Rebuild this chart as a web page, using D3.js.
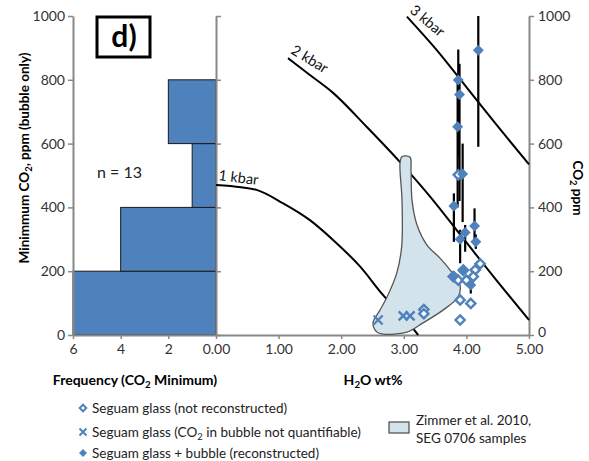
<!DOCTYPE html>
<html>
<head>
<meta charset="utf-8">
<script src="https://cdn.jsdelivr.net/npm/d3@7"></script>
<style>
  body { margin: 0; background: #fff; }
  text { font-family: Lato, "Open Sans", sans-serif; }
</style>
</head>
<body>
<div id="chart"></div>
<script>
// Histogram of minimum CO2 (bubble only)
const binStart = [0, 200, 400, 600, 800];
const binCount = [6, 4, 1, 2, 0];

// Isobars, [H2O wt%, CO2 ppm]
const isobar1 = [[0, 470], [0.4, 463], [0.65, 455], [1.07, 413], [1.5, 360], [1.87, 298], [2.3, 215], [2.67, 125], [3.0, 55], [3.23, 0]];
const isobar2 = [[1.15, 868], [1.5, 815], [1.87, 759], [2.41, 652], [2.94, 542], [3.42, 434], [4.0, 290], [4.54, 157], [5.0, 47]];
const isobar3 = [[3.05, 998], [3.5, 899], [4.0, 777], [4.46, 664], [5.0, 535]];

// Zimmer et al. 2010 field outline
const zimmerOutline = [[2.94, 540], [2.97, 559], [3.10, 557], [3.115, 517], [3.131, 423], [3.211, 345], [3.371, 282],
  [3.578, 241], [3.738, 204], [3.898, 157], [3.866, 119], [3.626, 78], [3.307, 38], [3.051, 9], [2.668, 3],
  [2.572, 9], [2.508, 38], [2.62, 78], [2.732, 119], [2.887, 194], [2.966, 277], [2.971, 423]];

// Seguam glass + bubble (reconstructed), with error ranges
const reconH2O = [4.19, 3.87, 3.89, 3.86, 3.94, 3.80, 3.98, 3.90, 4.13, 4.15, 4.07, 3.80, 3.95];
const reconCO2 = [893, 799, 754, 653, 505, 404, 321, 300, 342, 292, 157, 185, 200];
const reconLow = [590, 560, 420, 400, 354, 292, 261, 225, 282, 270, 130, null, null];
const reconHigh = [1000, 895, 850, 800, 600, 444, 345, 330, 397, 315, 167, null, null];

// Seguam glass (not reconstructed)
const openH2O = [3.87, 3.79, 3.95, 3.87, 4.00, 4.14, 4.22, 4.11, 3.90, 4.07, 3.90, 3.32, 3.32];
const openCO2 = [502, 183, 204, 172, 172, 204, 223, 183, 110, 99, 47, 80, 67];

// Seguam glass (CO2 in bubble not quantifiable)
const crossH2O = [2.59, 2.99, 3.10];
const crossCO2 = [47, 60, 60];

const ppmTicks = [0, 200, 400, 600, 800, 1000];
const freqTicks = [6, 4, 2];
const h2oTicks = [0, 1, 2, 3, 4, 5];

const blue = '#4f81bd';
const axisGray = '#888';

const svg = d3.select('#chart').append('svg')
  .attr('width', 589).attr('height', 461)
  .style('background', '#fff');

const y = d3.scaleLinear().domain([0, 1000]).range([335, 16]);
const xHist = d3.scaleLinear().domain([6, 0]).range([73, 216]);
const x = d3.scaleLinear().domain([0, 5]).range([216, 529]);

// Histogram bars
svg.append('g')
  .selectAll('rect')
  .data(binStart.map((s, i) => ({ s, n: binCount[i] })).filter(d => d.n > 0))
  .enter()
  .append('rect')
  .attr('x', d => xHist(d.n))
  .attr('y', d => y(d.s + 200))
  .attr('width', d => xHist(0) - xHist(d.n))
  .attr('height', d => y(d.s) - y(d.s + 200))
  .attr('fill', blue)
  .attr('stroke', '#1a1a1a')
  .attr('stroke-width', 1);

// Axes
const styleAxis = (g, fontSize) => {
  g.select('.domain').attr('stroke', axisGray).attr('stroke-width', 2);
  g.selectAll('.tick line').attr('stroke', axisGray).attr('stroke-width', 1.5);
  g.selectAll('.tick text').attr('fill', '#333').style('font-size', fontSize + 'px');
};

svg.append('g')
  .attr('transform', 'translate(73,0)')
  .call(d3.axisLeft(y).tickValues(ppmTicks).tickSize(5).tickSizeOuter(0).tickPadding(3).tickFormat(d3.format('d')))
  .call(g => styleAxis(g, 14));

svg.append('g')
  .attr('transform', 'translate(216,0)')
  .call(d3.axisRight(y).tickValues(ppmTicks).tickSize(5).tickSizeOuter(0).tickFormat(''))
  .call(g => styleAxis(g, 14));

svg.append('g')
  .attr('transform', 'translate(529,0)')
  .call(d3.axisRight(y).tickValues(ppmTicks).tickSize(5).tickSizeOuter(0).tickPadding(4).tickFormat(d3.format('d')))
  .call(g => styleAxis(g, 14))
  .call(g => g.selectAll('.tick text').attr('dy', (d) => d === 0 ? '0.1em' : '0.32em'));

svg.append('g')
  .attr('transform', 'translate(0,335)')
  .call(d3.axisBottom(xHist).tickValues(freqTicks).tickSize(4).tickSizeOuter(0).tickPadding(5).tickFormat(d3.format('d')))
  .call(g => styleAxis(g, 14));

svg.append('g')
  .attr('transform', 'translate(0,335)')
  .call(d3.axisBottom(x).tickValues(h2oTicks).tickSize(4).tickSizeOuter(0).tickPadding(5).tickFormat(d3.format('.2f')))
  .call(g => styleAxis(g, 14));

// Isobars
const line = d3.line().x(d => x(d[0])).y(d => y(d[1])).curve(d3.curveMonotoneX);
svg.append('g')
  .selectAll('path')
  .data([isobar1, isobar2, isobar3])
  .enter()
  .append('path')
  .attr('d', line)
  .attr('fill', 'none')
  .attr('stroke', '#000')
  .attr('stroke-width', 2);

const kbarLabels = [
  { t: '1 kbar', p: isobar1[0], dx: 2, dy: -5, r: 7 },
  { t: '2 kbar', p: isobar2[0], dx: 2, dy: -5, r: 31 },
  { t: '3 kbar', p: isobar3[0], dx: 2, dy: -5, r: 40 }
];
svg.append('g')
  .selectAll('text')
  .data(kbarLabels)
  .enter()
  .append('text')
  .attr('transform', d => `translate(${x(d.p[0]) + d.dx},${y(d.p[1]) + d.dy}) rotate(${d.r})`)
  .style('font-size', '14.5px')
  .attr('fill', '#111')
  .text(d => d.t);

// Zimmer field
svg.append('path')
  .datum(zimmerOutline)
  .attr('d', d3.line().x(d => x(d[0])).y(d => y(d[1])).curve(d3.curveCatmullRomClosed.alpha(0.5)))
  .attr('fill', '#d2e3eb')
  .attr('stroke', '#555')
  .attr('stroke-width', 1.3);

// Error bars
const recon = reconH2O.map((h, i) => ({ h, c: reconCO2[i], lo: reconLow[i], hi: reconHigh[i] }));
svg.append('g')
  .selectAll('line')
  .data(recon.filter(d => d.lo !== null))
  .enter()
  .append('line')
  .attr('x1', d => x(d.h)).attr('x2', d => x(d.h))
  .attr('y1', d => y(d.lo)).attr('y2', d => y(d.hi))
  .attr('stroke', '#000')
  .attr('stroke-width', 2.2);

const diamond = s => `M0,${-s}L${s},0L0,${s}L${-s},0Z`;

// Open diamonds
svg.append('g')
  .selectAll('path')
  .data(openH2O.map((h, i) => [h, openCO2[i]]))
  .enter()
  .append('path')
  .attr('transform', d => `translate(${x(d[0])},${y(d[1])})`)
  .attr('d', diamond(4.6))
  .attr('fill', '#fff')
  .attr('stroke', blue)
  .attr('stroke-width', 2.4);

// Crosses
svg.append('g')
  .selectAll('path')
  .data(crossH2O.map((h, i) => [h, crossCO2[i]]))
  .enter()
  .append('path')
  .attr('transform', d => `translate(${x(d[0])},${y(d[1])})`)
  .attr('d', 'M-4.5,-4.5L4.5,4.5M-4.5,4.5L4.5,-4.5')
  .attr('stroke', blue)
  .attr('stroke-width', 2.4);

// Filled diamonds
svg.append('g')
  .selectAll('path')
  .data(recon)
  .enter()
  .append('path')
  .attr('transform', d => `translate(${x(d.h)},${y(d.c)})`)
  .attr('d', diamond(5.5))
  .attr('fill', blue);

// Panel label
svg.append('rect')
  .attr('x', 97).attr('y', 17).attr('width', 53).attr('height', 40)
  .attr('fill', '#fff').attr('stroke', '#000').attr('stroke-width', 3);
svg.append('text')
  .attr('x', 124).attr('y', 47).attr('text-anchor', 'middle')
  .style('font-size', '30px').style('font-weight', 'bold')
  .text('d)');

svg.append('text')
  .attr('x', 97).attr('y', 178)
  .style('font-size', '16px').attr('fill', '#222')
  .text('n = 13');

// Axis titles
const sub = (sel, parts) => {
  parts.forEach(p => {
    const t = sel.append('tspan').text(p.t);
    if (p.sub) t.style('font-size', '70%').attr('dy', 3);
    if (p.up) t.attr('dy', -3);
  });
};

svg.append('text')
  .attr('transform', 'translate(29,158) rotate(-90)')
  .attr('text-anchor', 'middle')
  .style('font-size', '13.5px').style('font-weight', 'bold')
  .call(s => sub(s, [{ t: 'Minimmum CO' }, { t: '2', sub: true }, { t: ', ppm (bubble only)', up: true }]));

svg.append('text')
  .attr('transform', 'translate(573,188) rotate(90)')
  .attr('text-anchor', 'middle')
  .style('font-size', '13.5px').style('font-weight', 'bold')
  .call(s => sub(s, [{ t: 'CO' }, { t: '2', sub: true }, { t: ' ppm', up: true }]));

svg.append('text')
  .attr('x', 135).attr('y', 385).attr('text-anchor', 'middle')
  .style('font-size', '14px').style('font-weight', 'bold')
  .call(s => sub(s, [{ t: 'Frequency (CO' }, { t: '2', sub: true }, { t: ' Minimum)', up: true }]));

svg.append('text')
  .attr('x', 373).attr('y', 385).attr('text-anchor', 'middle')
  .style('font-size', '14px').style('font-weight', 'bold')
  .call(s => sub(s, [{ t: 'H' }, { t: '2', sub: true }, { t: 'O wt%', up: true }]));

// Legend
const legendY = [408, 432, 453];
const lg = svg.append('g');
lg.append('path').attr('transform', `translate(83,${legendY[0]})`).attr('d', diamond(3.3))
  .attr('fill', '#fff').attr('stroke', blue).attr('stroke-width', 2);
lg.append('path').attr('transform', `translate(83,${legendY[1]})`).attr('d', 'M-3.5,-3.5L3.5,3.5M-3.5,3.5L3.5,-3.5')
  .attr('stroke', blue).attr('stroke-width', 2);
lg.append('path').attr('transform', `translate(83,${legendY[2]})`).attr('d', diamond(4))
  .attr('fill', blue);

const legendText = (yy, parts) => lg.append('text')
  .attr('x', 92).attr('y', yy).attr('dy', '0.35em')
  .style('font-size', '13.5px').attr('fill', '#222')
  .call(s => sub(s, parts));
legendText(legendY[0], [{ t: 'Seguam glass (not reconstructed)' }]);
legendText(legendY[1], [{ t: 'Seguam glass (CO' }, { t: '2', sub: true }, { t: ' in bubble not quantifiable)', up: true }]);
legendText(legendY[2], [{ t: 'Seguam glass + bubble (reconstructed)' }]);

lg.append('rect').attr('x', 389).attr('y', 422).attr('width', 20).attr('height', 11)
  .attr('fill', '#d2e3eb').attr('stroke', '#555').attr('stroke-width', 1.3);
lg.append('text').attr('x', 416).attr('y', 420).attr('dy', '0.35em')
  .style('font-size', '13.5px').attr('fill', '#222').text('Zimmer et al. 2010,');
lg.append('text').attr('x', 416).attr('y', 438).attr('dy', '0.35em')
  .style('font-size', '13.5px').attr('fill', '#222').text('SEG 0706 samples');
</script>
</body>
</html>
